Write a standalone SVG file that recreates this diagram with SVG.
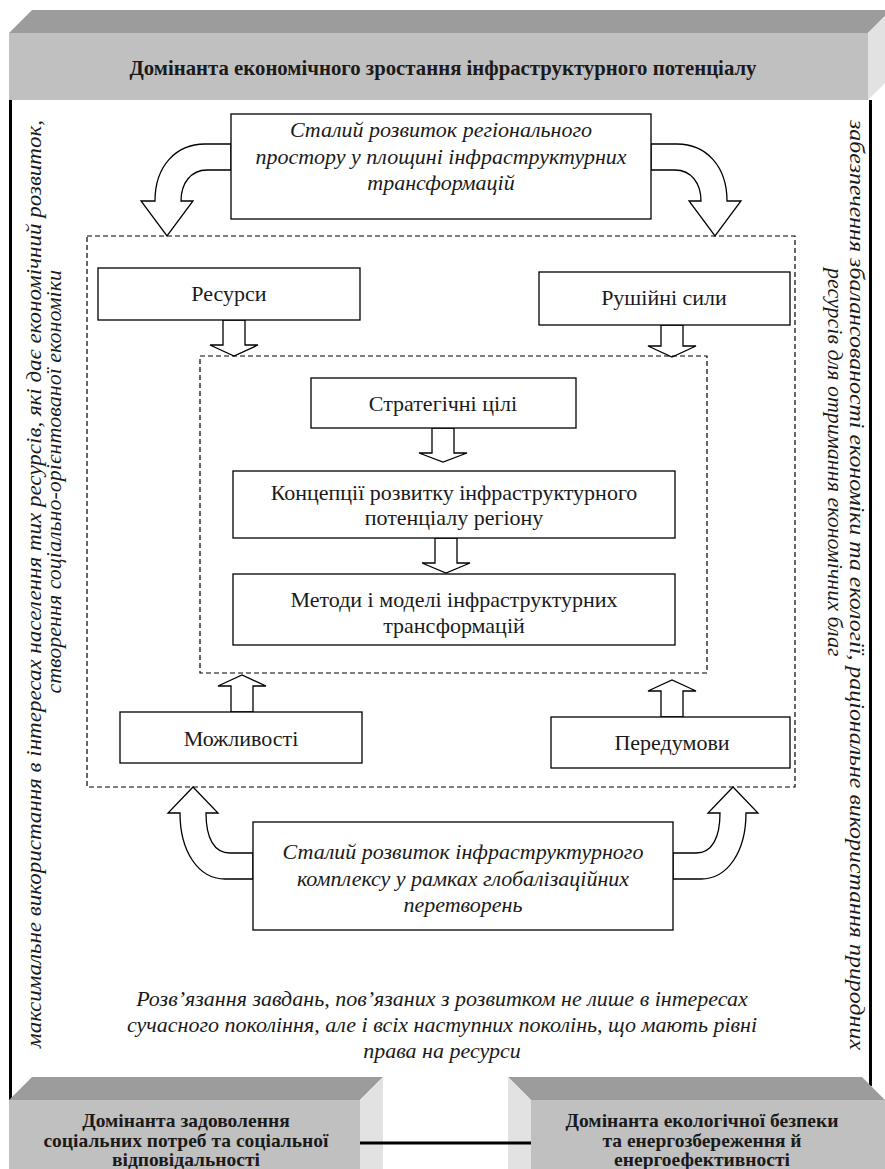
<svg xmlns="http://www.w3.org/2000/svg" width="885" height="1169" viewBox="0 0 885 1169">
<style>
.bg{fill:#fff}
.front{fill:#c0c0c0}
.top{fill:#9c9c9c}
.side{fill:#e2e2e2}
.box{fill:#fff;stroke:#000;stroke-width:1.3}
.dash{fill:none;stroke:#000;stroke-width:1.2;stroke-dasharray:5 3}
.arr{fill:#fff;stroke:#000;stroke-width:1.3;stroke-linejoin:miter}
.border{stroke:#000;stroke-width:3;fill:none}
.t{font-family:"Liberation Serif","Times New Roman",serif;font-size:22px;text-anchor:middle;fill:#1a1a1a}
.i{font-style:italic}
.b{font-weight:bold}
.bs{font-weight:bold;font-size:19.5px}
</style>
<rect class="bg" x="0" y="0" width="885" height="1169"/>

<g id="border">
<line class="border" x1="10.5" y1="100" x2="10.5" y2="1100"/>
<line class="border" x1="870.5" y1="100" x2="870.5" y2="1086"/>
</g>

<g id="banner-top">
<rect class="front" x="9" y="33" width="859" height="67"/>
<polygon class="top" points="9,33 32,10 891,10 868,33"/>
<polygon class="side" points="868,33 891,10 891,77 868,100"/>
<text class="t b" x="443" y="75" textLength="627" lengthAdjust="spacingAndGlyphs">Домінанта економічного зростання інфраструктурного потенціалу</text>
</g>

<g id="side-left">
<text class="t i" transform="translate(41,584) rotate(-90)" textLength="928" lengthAdjust="spacingAndGlyphs">максимальне використання в інтересах населення тих ресурсів, які дає економічний розвиток,</text>
<text class="t i" transform="translate(61,270) rotate(-90)" style="text-anchor:end">створення соціально-орієнтованої економіки</text>
</g>
<g id="side-right">
<text class="t i" transform="translate(850,585) rotate(90)" textLength="930" lengthAdjust="spacingAndGlyphs">забезпечення збалансованості економіки та екології, раціональне використання природних</text>
<text class="t i" transform="translate(828,268) rotate(90)" style="text-anchor:start">ресурсів для отримання економічних благ</text>
</g>

<g id="connectors">
<path class="arr" d="M231,144 H205 C176,144 155,166 155,201 H141 L167,236 L193,201 H181 C181,183 191,170 207,170 H231 Z"/>
<path class="arr" d="M651,144 H677 C706,144 727,166 727,201 H741 L715,236 L689,201 H701 C701,183 691,170 675,170 H651 Z"/>
<path class="arr" d="M253,879 H225 C198,879 180,851 180,813 H168 L193,787 L218,813 H206 C206,838 214,853 230,853 H253 Z"/>
<path class="arr" d="M673,879 H701 C728,879 746,851 746,813 H758 L733,787 L708,813 H720 C720,838 712,853 696,853 H673 Z"/>
<polygon class="arr" points="223,320 245,320 245,345 258,345 234,356 210,345 223,345"/>
<polygon class="arr" points="661,325 683,325 683,346 696,346 672,357 648,346 661,346"/>
<polygon class="arr" points="432,428 454,428 454,453 467,453 443,462 419,453 432,453"/>
<polygon class="arr" points="435,538 457,538 457,563 470,563 446,573 422,563 435,563"/>
<polygon class="arr" points="231,712 253,712 253,686 266,686 242,675 218,686 231,686"/>
<polygon class="arr" points="661,717 683,717 683,691 696,691 672,680 648,691 661,691"/>
</g>

<g id="frames">
<rect class="dash" x="87" y="236" width="708" height="551"/>
<rect class="dash" x="200" y="356" width="507" height="317"/>
</g>

<g id="n-top">
<rect class="box" x="231" y="114" width="420" height="105"/>
<text class="t i" x="441" y="137">Сталий розвиток регіонального</text>
<text class="t i" x="441" y="164">простору у площині інфраструктурних</text>
<text class="t i" x="441" y="190">трансформацій</text>
</g>

<g id="n-resursy">
<rect class="box" x="98" y="268" width="262" height="52"/>
<text class="t" x="229" y="301">Ресурси</text>
</g>
<g id="n-rushiini">
<rect class="box" x="539" y="272" width="251" height="53"/>
<text class="t" x="664" y="305">Рушійні сили</text>
</g>

<g id="n-stratehichni">
<rect class="box" x="311" y="378" width="265" height="50"/>
<text class="t" x="443" y="411">Стратегічні цілі</text>
</g>
<g id="n-kontseptsii">
<rect class="box" x="233" y="471" width="442" height="67"/>
<text class="t" x="454" y="500">Концепції розвитку інфраструктурного</text>
<text class="t" x="454" y="525">потенціалу регіону</text>
</g>
<g id="n-metody">
<rect class="box" x="233" y="574" width="442" height="71"/>
<text class="t" x="454" y="607">Методи і моделі інфраструктурних</text>
<text class="t" x="454" y="633">трансформацій</text>
</g>

<g id="n-mozhlyvosti">
<rect class="box" x="120" y="712" width="242" height="51"/>
<text class="t" x="241" y="746">Можливості</text>
</g>
<g id="n-peredumovy">
<rect class="box" x="551" y="717" width="239" height="51"/>
<text class="t" x="672" y="750">Передумови</text>
</g>

<g id="n-bottom">
<rect class="box" x="253" y="822" width="420" height="108"/>
<text class="t i" x="463" y="859">Сталий розвиток інфраструктурного</text>
<text class="t i" x="463" y="886">комплексу у рамках глобалізаційних</text>
<text class="t i" x="463" y="912">перетворень</text>
</g>

<g id="n-paragraph">
<text class="t i" x="442" y="1006">Розв’язання завдань, пов’язаних з розвитком не лише в інтересах</text>
<text class="t i" x="442" y="1032">сучасного покоління, але і всіх наступних поколінь, що мають рівні</text>
<text class="t i" x="442" y="1058">права на ресурси</text>
</g>

<g id="banner-left">
<rect class="front" x="9" y="1100" width="351" height="69"/>
<polygon class="top" points="9,1100 32,1077 383,1077 360,1100"/>
<polygon class="side" points="360,1100 383,1077 383,1169 360,1169"/>
<text class="t bs" x="186" y="1127">Домінанта задоволення</text>
<text class="t bs" x="186" y="1147">соціальних потреб та соціальної</text>
<text class="t bs" x="186" y="1166">відповідальності</text>
</g>
<g id="banner-right">
<rect class="front" x="531" y="1100" width="354" height="69"/>
<polygon class="top" points="531,1100 508,1077 862,1077 885,1100"/>
<polygon class="side" points="531,1100 508,1077 508,1169 531,1169"/>
<text class="t bs" x="702" y="1127">Домінанта екологічної безпеки</text>
<text class="t bs" x="702" y="1147">та енергозбереження й</text>
<text class="t bs" x="702" y="1166">енергоефективності</text>
</g>
<g id="link">
<line x1="360" y1="1143" x2="531" y2="1143" stroke="#000" stroke-width="3"/>
</g>
</svg>
